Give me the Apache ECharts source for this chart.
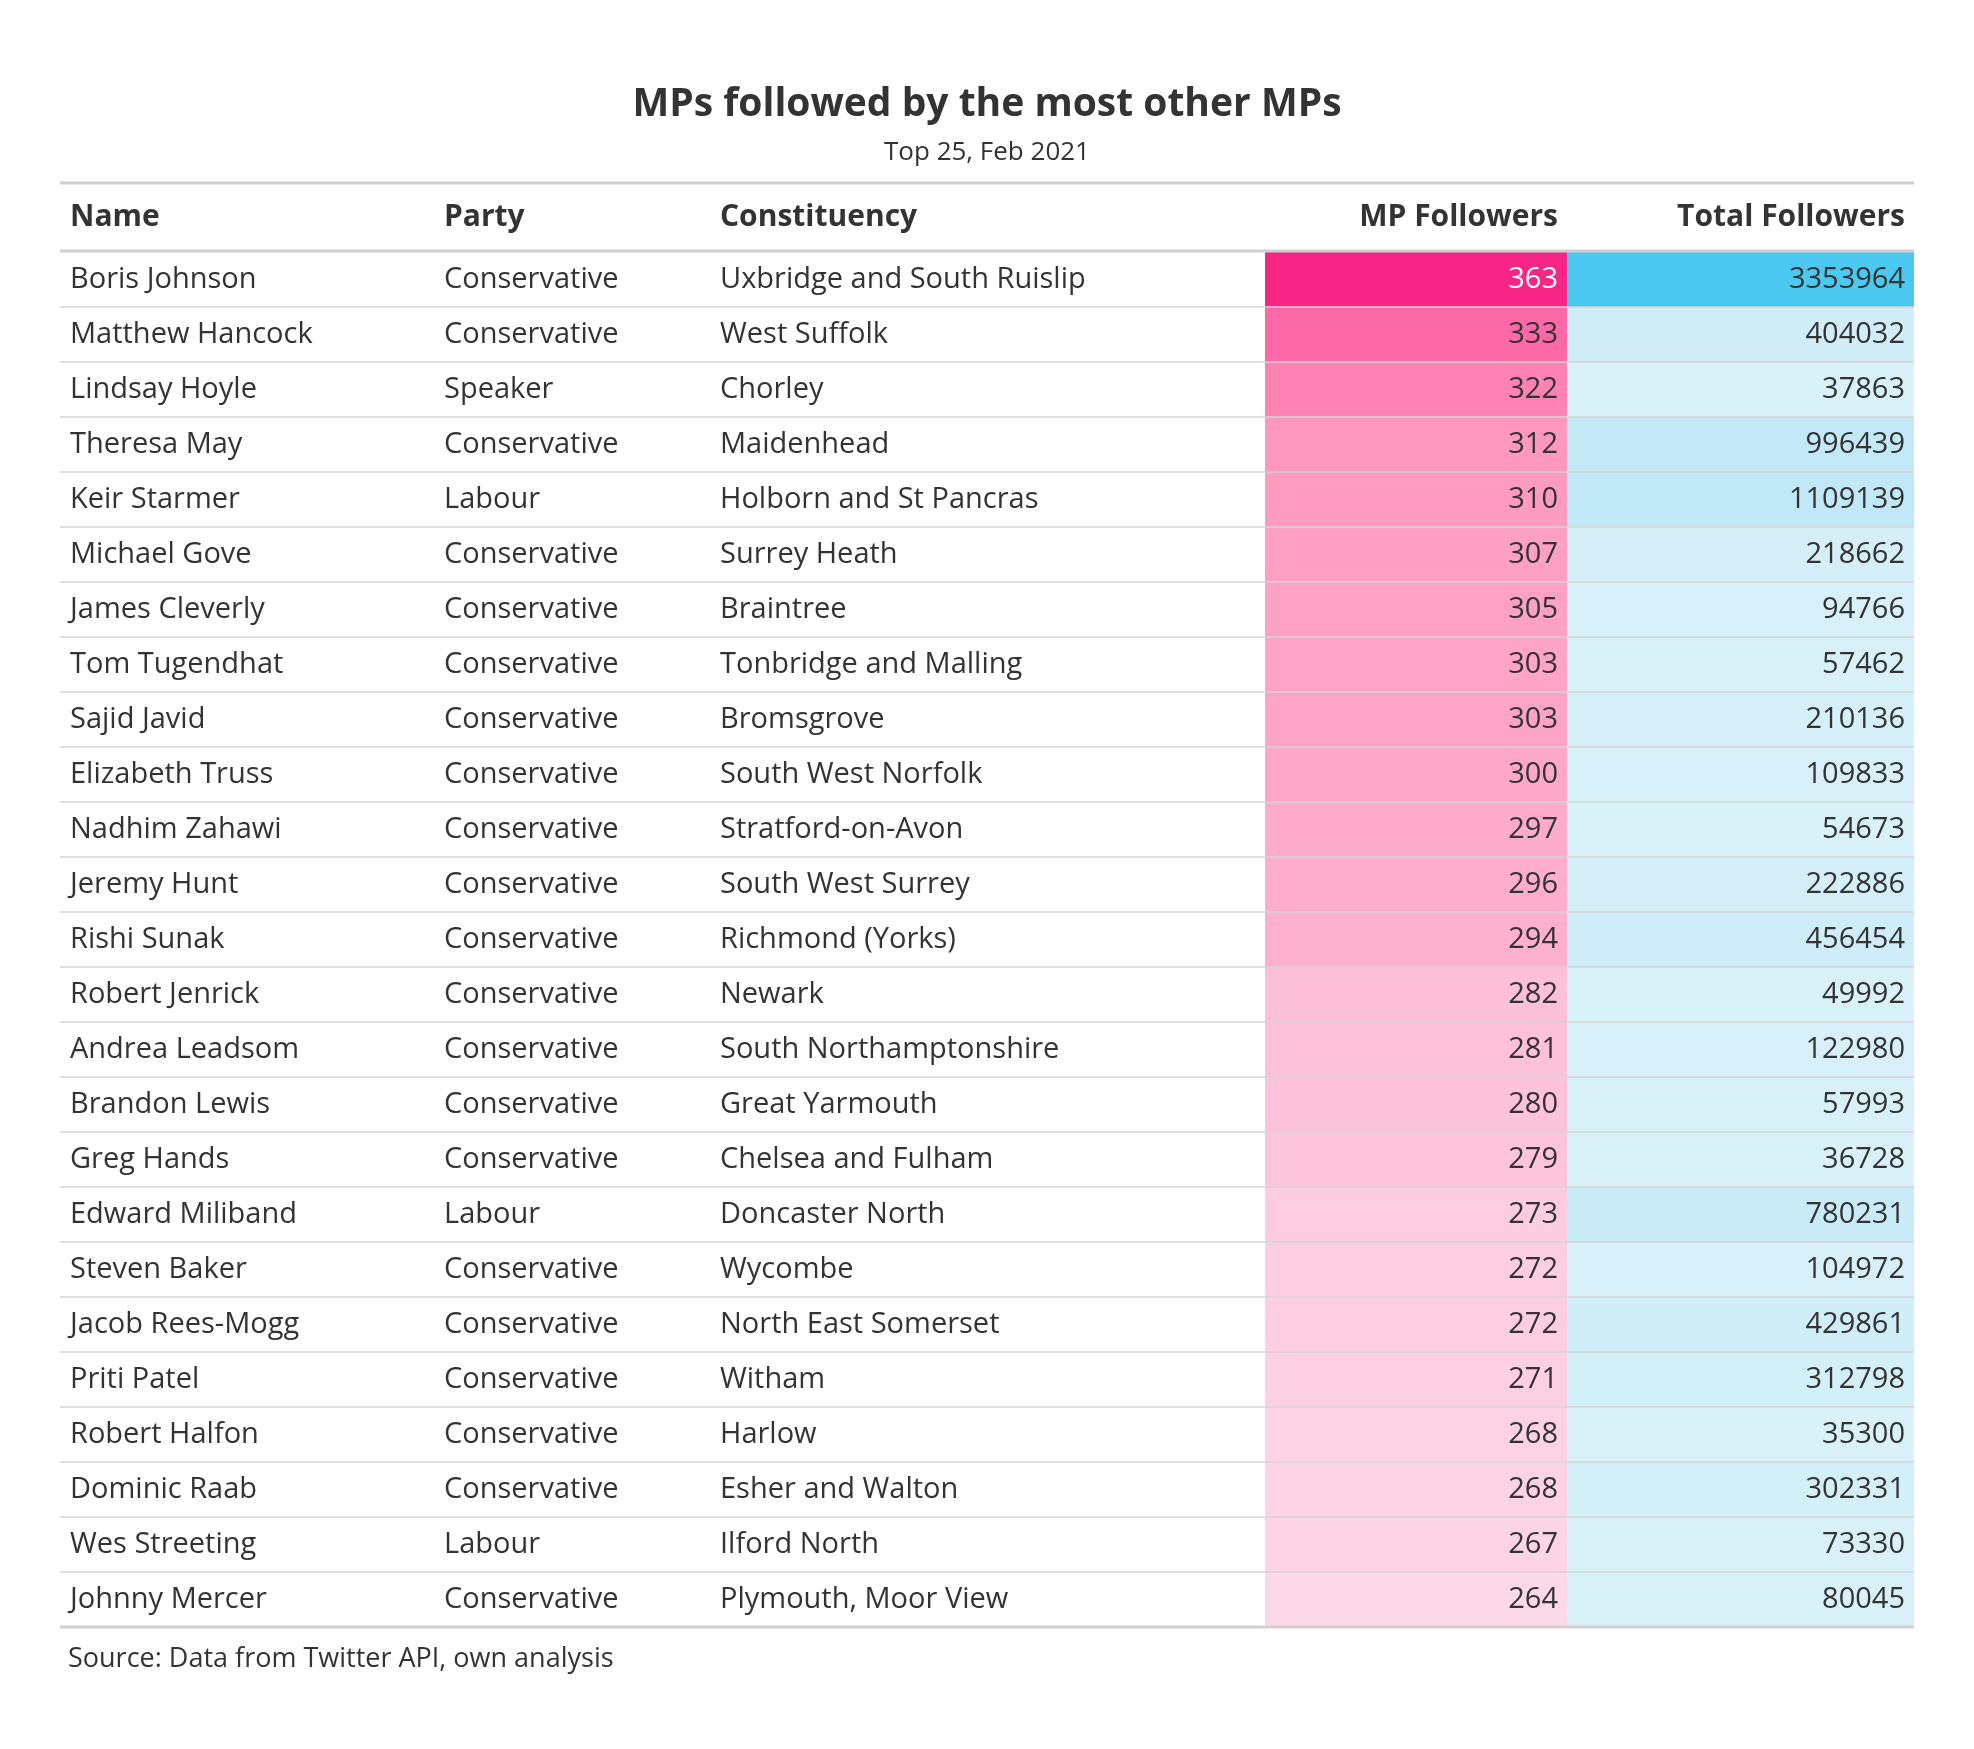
<!DOCTYPE html>
<html><head><meta charset="utf-8">
<script src="https://cdn.jsdelivr.net/npm/echarts@6/dist/echarts.min.js"></script>
<style>html,body{margin:0;background:#fff}#main{width:1974px;height:1749px}</style>
</head><body><div id="main"></div>
<script>
var names = ["Boris Johnson","Matthew Hancock","Lindsay Hoyle","Theresa May","Keir Starmer","Michael Gove","James Cleverly","Tom Tugendhat","Sajid Javid","Elizabeth Truss","Nadhim Zahawi","Jeremy Hunt","Rishi Sunak","Robert Jenrick","Andrea Leadsom","Brandon Lewis","Greg Hands","Edward Miliband","Steven Baker","Jacob Rees-Mogg","Priti Patel","Robert Halfon","Dominic Raab","Wes Streeting","Johnny Mercer"];
var parties = ["Conservative","Conservative","Speaker","Conservative","Labour","Conservative","Conservative","Conservative","Conservative","Conservative","Conservative","Conservative","Conservative","Conservative","Conservative","Conservative","Conservative","Labour","Conservative","Conservative","Conservative","Conservative","Conservative","Labour","Conservative"];
var constituencies = ["Uxbridge and South Ruislip","West Suffolk","Chorley","Maidenhead","Holborn and St Pancras","Surrey Heath","Braintree","Tonbridge and Malling","Bromsgrove","South West Norfolk","Stratford-on-Avon","South West Surrey","Richmond (Yorks)","Newark","South Northamptonshire","Great Yarmouth","Chelsea and Fulham","Doncaster North","Wycombe","North East Somerset","Witham","Harlow","Esher and Walton","Ilford North","Plymouth, Moor View"];
var mpFollowers = [363,333,322,312,310,307,305,303,303,300,297,296,294,282,281,280,279,273,272,272,271,268,268,267,264];
var totalFollowers = [3353964,404032,37863,996439,1109139,218662,94766,57462,210136,109833,54673,222886,456454,49992,122980,57993,36728,780231,104972,429861,312798,35300,302331,73330,80045];
var headers = ["Name","Party","Constituency","MP Followers","Total Followers"];

var FONT = '"Open Sans", sans-serif';
var chart = echarts.init(document.getElementById('main'));
var L = 60, W = 1854;
// column positions in px inside the grid
var colName = 10, colParty = 384, colConst = 660, mpStart = 1205, mpEnd = 1507, totEnd = 1854;
var textCols = [names, parties, constituencies];

function textSeries(col, x) {
    return {
        type: 'custom', data: names.map(function (n, i) { return [i]; }), silent: true,
        renderItem: function (params, api) {
            var row = params.dataIndex;
            var p = api.coord([x, row]);
            var children = [{type: 'text', x: p[0], y: p[1], style: {text: textCols[col][row], fill: '#333', font: '29px ' + FONT, textVerticalAlign: 'middle'}}];
            if (col === 0) {
                var h = api.size([0, 1])[1];
                children.push({type: 'line', shape: {x1: L, y1: p[1] + h / 2, x2: L + W, y2: p[1] + h / 2}, style: {stroke: '#d4d4d4', lineWidth: 1.5}, z2: 10});
            }
            return {type: 'group', children: children};
        }
    };
}
function cellSeries(vals, x0, x1, textColorFn) {
    return {
        type: 'custom', silent: true,
        data: vals.map(function (v, i) { return [i, v]; }),
        renderItem: function (params, api) {
            var a = api.coord([x0, api.value(0)]);
            var b = api.coord([x1, api.value(0)]);
            var h = api.size([0, 1])[1];
            return {type: 'group', children: [
                {type: 'rect', shape: {x: a[0], y: a[1] - h / 2, width: b[0] - a[0], height: h}, style: {fill: api.visual('color')}},
                {type: 'text', x: b[0] - 9, y: a[1], style: {text: String(api.value(1)), fill: textColorFn(api.value(1)), font: '29px ' + FONT, align: 'right', textVerticalAlign: 'middle'}}
            ]};
        }
    };
}

var option = {
    backgroundColor: '#fff',
    title: {
        text: 'MPs followed by the most other MPs', subtext: 'Top 25, Feb 2021',
        left: 'center', top: 80, itemGap: 16,
        textStyle: {fontFamily: FONT, fontSize: 39, fontWeight: 'bold', color: '#333'},
        subtextStyle: {fontFamily: FONT, fontSize: 26, color: '#333'}
    },
    grid: {left: L, width: W, top: 252, height: 1375},
    xAxis: {type: 'value', min: 0, max: W, show: false},
    yAxis: {type: 'category', inverse: true, data: names, show: false},
    visualMap: [
        {show: false, seriesIndex: 3, dimension: 1, min: 264, max: 363, inRange: {color: ['#fdd8e8', '#ff96bb', '#f72585']}},
        {show: false, seriesIndex: 4, dimension: 1, min: 35300, max: 3353964, inRange: {color: ['#d9f1f9', '#b3e3f5', '#4cc9f0']}}
    ],
    series: [
        textSeries(0, colName), textSeries(1, colParty), textSeries(2, colConst),
        cellSeries(mpFollowers, mpStart, mpEnd, function (v) { return v > 350 ? '#fff' : '#333'; }),
        cellSeries(totalFollowers, mpEnd, totEnd, function () { return '#333'; })
    ],
    graphic: [
        {type: 'line', shape: {x1: L, y1: 183, x2: L + W, y2: 183}, style: {stroke: '#d0d0d0', lineWidth: 3}},
        {type: 'line', shape: {x1: L, y1: 251, x2: L + W, y2: 251}, style: {stroke: '#d0d0d0', lineWidth: 3}, z: 100},
        {type: 'line', shape: {x1: L, y1: 1627, x2: L + W, y2: 1627}, style: {stroke: '#d0d0d0', lineWidth: 3}, z: 100},
        {type: 'text', x: L + colName, y: 217, style: {text: headers[0], font: 'bold 30px ' + FONT, fill: '#333', textVerticalAlign: 'middle'}},
        {type: 'text', x: L + colParty, y: 217, style: {text: headers[1], font: 'bold 30px ' + FONT, fill: '#333', textVerticalAlign: 'middle'}},
        {type: 'text', x: L + colConst, y: 217, style: {text: headers[2], font: 'bold 30px ' + FONT, fill: '#333', textVerticalAlign: 'middle'}},
        {type: 'text', x: L + mpEnd - 9, y: 217, style: {text: headers[3], font: 'bold 30px ' + FONT, fill: '#333', align: 'right', textVerticalAlign: 'middle'}},
        {type: 'text', x: L + totEnd - 9, y: 217, style: {text: headers[4], font: 'bold 30px ' + FONT, fill: '#333', align: 'right', textVerticalAlign: 'middle'}},
        {type: 'text', x: 68, y: 1659, style: {text: 'Source: Data from Twitter API, own analysis', font: '27px ' + FONT, fill: '#333', textVerticalAlign: 'middle'}}
    ]
};
chart.setOption(option);
</script>
</body></html>
